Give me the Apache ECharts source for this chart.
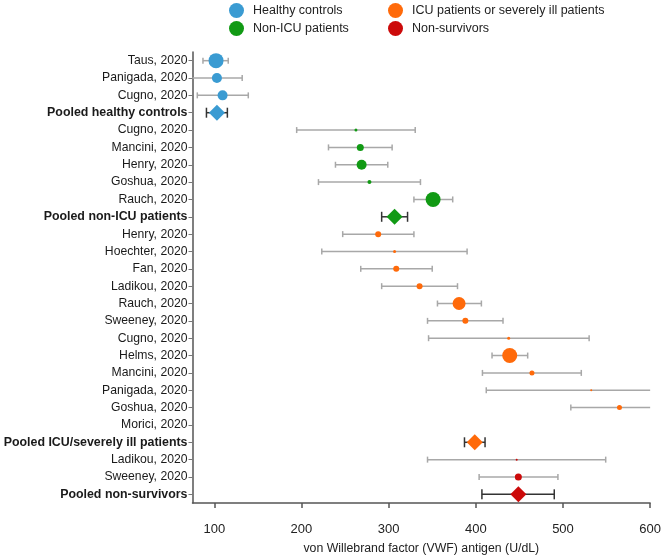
<!DOCTYPE html>
<html>
<head>
<meta charset="utf-8">
<script src="https://cdn.jsdelivr.net/npm/echarts@6/dist/echarts.min.js"></script>
<style>
html,body{margin:0;padding:0;background:#fff;}
#chart{width:664px;height:560px;}
</style>
</head>
<body>
<div id="chart"></div>
<script>
// ---- Data ----
const categories = [
  'Taus, 2020', 'Panigada, 2020', 'Cugno, 2020', 'Pooled healthy controls',
  'Cugno, 2020', 'Mancini, 2020', 'Henry, 2020', 'Goshua, 2020', 'Rauch, 2020', 'Pooled non-ICU patients',
  'Henry, 2020', 'Hoechter, 2020', 'Fan, 2020', 'Ladikou, 2020', 'Rauch, 2020', 'Sweeney, 2020',
  'Cugno, 2020', 'Helms, 2020', 'Mancini, 2020', 'Panigada, 2020', 'Goshua, 2020', 'Morici, 2020',
  'Pooled ICU/severely ill patients',
  'Ladikou, 2020', 'Sweeney, 2020', 'Pooled non-survivors'
];
const xTickValues = [100, 200, 300, 400, 500, 600];

// Healthy controls (rows 0-3, last = pooled)
const healthyMean   = [102, 103, 109.5, 103];
const healthyLower  = [87, 65, 80.5, 91];
const healthyUpper  = [116, 132, 139, 115];
const healthyWeight = [15, 10, 10, null];

// Non-ICU patients (rows 4-9, last = pooled)
const nonIcuMean   = [262.5, 267.5, 269, 278, 351, 306.8];
const nonIcuLower  = [194.5, 231, 239, 219.5, 329, 292];
const nonIcuUpper  = [330.5, 304, 299, 336.5, 373.5, 321.7];
const nonIcuWeight = [3, 7, 10, 4, 15, null];

// ICU / severely ill patients (rows 10-22, Morici has no data, last = pooled)
const icuMean   = [288, 306.8, 308.7, 335.5, 380.8, 388, 437.7, 438.9, 464.4, 532.4, 564.8, null, 398.8];
const icuLower  = [247.3, 223.3, 268, 292, 356, 344.6, 345.8, 418.6, 407.6, 412, 509, null, 387];
const icuUpper  = [329, 390, 350, 379, 406.4, 431.2, 530, 459.5, 521, 652, 621, null, 410.6];
const icuWeight = [6, 3, 6, 6, 13, 6, 3, 15, 5, 2, 5, null, null];

// Non-survivors (rows 23-25, last = pooled)
const nonSurvMean   = [446.9, 448.8, 448.8];
const nonSurvLower  = [344.6, 403.8, 407];
const nonSurvUpper  = [549, 494.2, 490];
const nonSurvWeight = [2, 7, null];

// ---- Build ----
const groups = [
  {name: 'Healthy controls', color: '#3a9bd2', start: 0, mean: healthyMean, lower: healthyLower, upper: healthyUpper, weight: healthyWeight},
  {name: 'Non-ICU patients', color: '#119a14', start: 4, mean: nonIcuMean, lower: nonIcuLower, upper: nonIcuUpper, weight: nonIcuWeight},
  {name: 'ICU patients or severely ill patients', color: '#ff6a0a', start: 10, mean: icuMean, lower: icuLower, upper: icuUpper, weight: icuWeight},
  {name: 'Non-survivors', color: '#cc0a0a', start: 23, mean: nonSurvMean, lower: nonSurvLower, upper: nonSurvUpper, weight: nonSurvWeight}
];

const FONT = '"Liberation Sans", Arial, Helvetica, sans-serif';
const errData = [];
const series = [];

groups.forEach(g => {
  const pts = [];
  g.mean.forEach((m, i) => {
    const row = g.start + i;
    const pooled = categories[row].indexOf('Pooled') === 0;
    if (m == null) return;
    errData.push([g.lower[i], g.upper[i], row, pooled ? 1 : 0]);
    pts.push({
      value: [m, row],
      symbol: pooled ? 'diamond' : 'circle',
      symbolSize: pooled ? 16 : g.weight[i]
    });
  });
  series.push({
    name: g.name,
    type: 'scatter',
    z: 5,
    itemStyle: {color: g.color, opacity: 1},
    emphasis: {disabled: true},
    data: pts
  });
});

series.unshift({
  name: 'errorbars',
  type: 'custom',
  z: 2,
  silent: true,
  encode: {x: [0, 1], y: 2},
  data: errData,
  renderItem: function (params, api) {
    const row = api.value(2);
    const pooled = api.value(3) === 1;
    const cs = params.coordSys;
    const y = api.coord([api.value(0), row])[1];
    let x1 = api.coord([api.value(0), row])[0];
    let x2 = api.coord([api.value(1), row])[0];
    const minX = cs.x, maxX = cs.x + cs.width;
    const clip1 = x1 < minX, clip2 = x2 > maxX;
    x1 = Math.max(x1, minX);
    x2 = Math.min(x2, maxX);
    const color = pooled ? '#333333' : '#a8a8a8';
    const cap = pooled ? 5 : 3;
    const style = {stroke: color, lineWidth: 1.5, fill: null};
    const children = [{type: 'line', shape: {x1: x1, y1: y, x2: x2, y2: y}, style: style}];
    if (!clip1) children.push({type: 'line', shape: {x1: x1, y1: y - cap, x2: x1, y2: y + cap}, style: style});
    if (!clip2) children.push({type: 'line', shape: {x1: x2, y1: y - cap, x2: x2, y2: y + cap}, style: style});
    return {type: 'group', children: children};
  }
});

const legendCommon = {
  orient: 'vertical',
  top: 3,
  padding: 0,
  itemWidth: 15,
  itemHeight: 15,
  itemGap: 3,
  icon: 'circle',
  selectedMode: false,
  textStyle: {fontSize: 12.5, color: '#222', fontFamily: FONT, padding: [0, 0, 0, 4]}
};

const option = {
  animation: false,
  backgroundColor: '#fff',
  textStyle: {fontFamily: FONT},
  legend: [
    Object.assign({}, legendCommon, {left: 229, data: ['Healthy controls', 'Non-ICU patients']}),
    Object.assign({}, legendCommon, {left: 388, data: ['ICU patients or severely ill patients', 'Non-survivors']})
  ],
  grid: {left: 192.5, right: 12, top: 52, bottom: 54, containLabel: false},
  xAxis: {
    type: 'value',
    min: 75,
    max: 600,
    name: 'von Willebrand factor (VWF) antigen (U/dL)',
    nameLocation: 'middle',
    nameGap: 40,
    nameTextStyle: {fontSize: 12.3, color: '#222', fontFamily: FONT},
    axisLine: {show: true, lineStyle: {color: '#555', width: 1.5}},
    axisTick: {show: true, length: 5, customValues: xTickValues, lineStyle: {color: '#555', width: 1.5}},
    axisLabel: {customValues: xTickValues, margin: 20, fontSize: 13, color: '#222', fontFamily: FONT},
    splitLine: {show: false}
  },
  yAxis: {
    type: 'category',
    data: categories,
    inverse: true,
    axisLine: {show: true, lineStyle: {color: '#555', width: 1.5}},
    axisTick: {show: true, alignWithLabel: true, length: 4, lineStyle: {color: '#777'}},
    axisLabel: {
      margin: 5,
      fontSize: 12.2,
      color: '#1a1a1a',
      fontFamily: FONT,
      formatter: function (v) { return v.indexOf('Pooled') === 0 ? '{b|' + v + '}' : v; },
      rich: {b: {fontWeight: 'bold', fontSize: 12.4, color: '#1a1a1a', fontFamily: FONT}}
    },
    splitLine: {show: false}
  },
  series: series
};

const chart = echarts.init(document.getElementById('chart'), null, {renderer: 'canvas'});
chart.setOption(option);
</script>
</body>
</html>
